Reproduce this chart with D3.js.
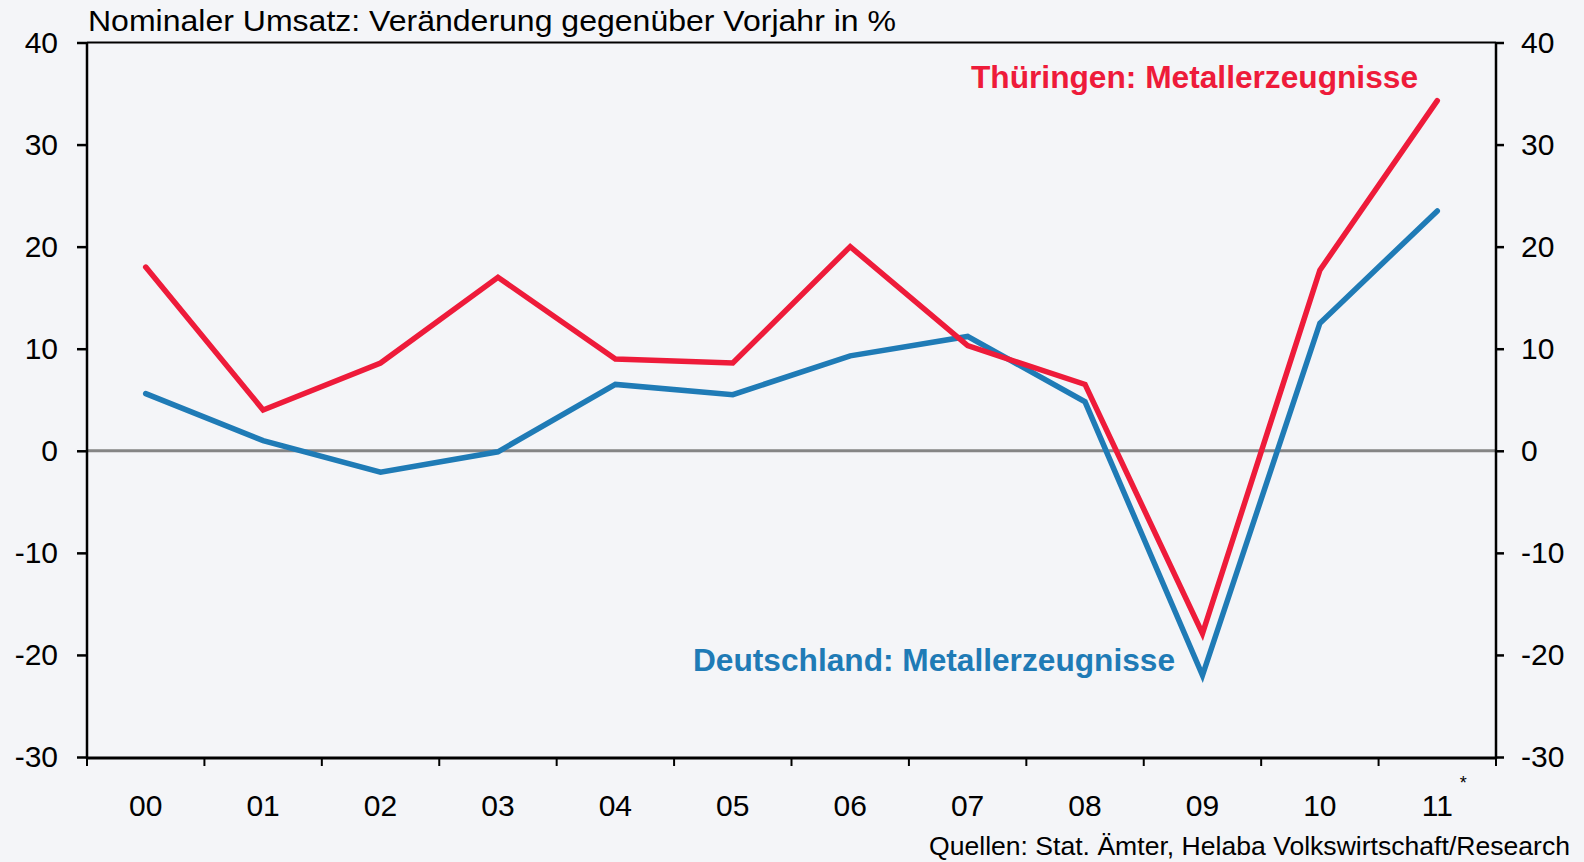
<!DOCTYPE html>
<html>
<head>
<meta charset="utf-8">
<script src="https://cdn.jsdelivr.net/npm/d3@7"></script>
<style>
  html, body { margin: 0; padding: 0; background: #f4f5f8; }
  svg { display: block; font-family: "Liberation Sans", Arial, sans-serif; }
</style>
</head>
<body>
<div class="chart_wrapper"></div>
<script>
// years (category labels)
const years = ["00", "01", "02", "03", "04", "05", "06", "07", "08", "09", "10", "11"]
// Thüringen: Metallerzeugnisse, % yoy
const thueringen = [18.0, 4.0, 8.6, 17.0, 9.0, 8.6, 20.0, 10.3, 6.5, -17.9, 17.7, 34.3]
// Deutschland: Metallerzeugnisse, % yoy
const deutschland = [5.6, 1.0, -2.1, -0.1, 6.5, 5.5, 9.3, 11.2, 4.8, -22.0, 12.5, 23.5]
const yTicks = [-30, -20, -10, 0, 10, 20, 30, 40]

const width = 1584
const height = 862
const red = "#ee1b3a"
const blue = "#1f7bb6"

const svg = d3.select('.chart_wrapper')
    .append('svg')
    .attr('width', width)
    .attr('height', height)

svg.append("rect")
    .attr("width", width)
    .attr("height", height)
    .attr("fill", "#f4f5f8")

const x = d3.scaleBand()
    .domain(years)
    .range([87, 1496])
    .padding(0)

const y = d3.scaleLinear()
    .domain([-30, 40])
    .range([757, 42.5])

// zero line
svg.append("line")
    .attr("x1", x.range()[0]).attr("x2", x.range()[1])
    .attr("y1", y(0)).attr("y2", y(0))
    .attr("stroke", "#858585")
    .attr("stroke-width", 3)

// left axis
const yLeft = svg.append("g")
    .attr("transform", `translate(${x.range()[0]},0)`)
    .call(d3.axisLeft(y).tickValues(yTicks).tickSize(10).tickPadding(19).tickFormat(d => String(d)))
yLeft.select(".domain").remove()

// right axis
const yRight = svg.append("g")
    .attr("transform", `translate(${x.range()[1]},0)`)
    .call(d3.axisRight(y).tickValues(yTicks).tickSize(8).tickPadding(17).tickFormat(d => String(d)))
yRight.select(".domain").remove()

svg.selectAll(".tick line").attr("stroke", "#000").attr("stroke-width", 2.5)
svg.selectAll(".tick text")
    .attr("font-size", 30)
    .attr("font-family", "Liberation Sans, Arial, sans-serif")
    .attr("fill", "#000")

// x labels (centered in each band)
const xAxis = svg.append("g")
    .attr("transform", `translate(0,${y(-30)})`)
    .call(d3.axisBottom(x).tickSize(0).tickPadding(38))
xAxis.select(".domain").remove()
xAxis.selectAll("text")
    .attr("font-size", 30)
    .attr("font-family", "Liberation Sans, Arial, sans-serif")
    .attr("fill", "#000")

// x ticks at band boundaries
const bounds = years.map(d => x(d)).concat([x.range()[1]])
svg.append("g")
    .selectAll("line")
    .data(bounds)
    .join("line")
    .attr("x1", d => d).attr("x2", d => d)
    .attr("y1", y(-30)).attr("y2", y(-30) + 9)
    .attr("stroke", "#000")
    .attr("stroke-width", 2)

// frame
const frame = svg.append("g").attr("stroke", "#000").attr("fill", "none")
frame.append("line")
    .attr("x1", x.range()[0]).attr("x2", x.range()[1])
    .attr("y1", y(40)).attr("y2", y(40))
    .attr("stroke-width", 2)
frame.append("line")
    .attr("x1", x.range()[0] - 1).attr("x2", x.range()[1] + 1)
    .attr("y1", y(-30) + 1).attr("y2", y(-30) + 1)
    .attr("stroke-width", 3)
frame.append("line")
    .attr("x1", x.range()[0]).attr("x2", x.range()[0])
    .attr("y1", y(40)).attr("y2", y(-30) + 2)
    .attr("stroke-width", 2.5)
frame.append("line")
    .attr("x1", x.range()[1]).attr("x2", x.range()[1])
    .attr("y1", y(40)).attr("y2", y(-30) + 2)
    .attr("stroke-width", 2.5)

// lines
const line = d3.line()
    .x((d, i) => x(years[i]) + x.bandwidth() / 2)
    .y(d => y(d))

const series = [
    { values: deutschland, color: blue },
    { values: thueringen, color: red },
]
svg.append("g")
    .selectAll("path")
    .data(series)
    .join("path")
    .attr("d", d => line(d.values))
    .attr("fill", "none")
    .attr("stroke", d => d.color)
    .attr("stroke-width", 5.5)
    .attr("stroke-linejoin", "miter")
    .attr("stroke-linecap", "round")

// series labels
svg.append("text")
    .attr("x", 971)
    .attr("y", 88)
    .attr("font-size", 32)
    .attr("font-weight", "bold")
    .attr("fill", red)
    .attr("textLength", 447)
    .attr("lengthAdjust", "spacingAndGlyphs")
    .text("Thüringen: Metallerzeugnisse")

svg.append("text")
    .attr("x", 693)
    .attr("y", 671)
    .attr("font-size", 32)
    .attr("font-weight", "bold")
    .attr("fill", blue)
    .attr("textLength", 482)
    .attr("lengthAdjust", "spacingAndGlyphs")
    .text("Deutschland: Metallerzeugnisse")

// title
svg.append("text")
    .attr("x", 88)
    .attr("y", 31)
    .attr("font-size", 30)
    .attr("fill", "#000")
    .attr("textLength", 808)
    .attr("lengthAdjust", "spacingAndGlyphs")
    .text("Nominaler Umsatz: Veränderung gegenüber Vorjahr in %")

// asterisk next to 11
svg.append("text")
    .attr("x", x("11") + x.bandwidth() / 2 + 26)
    .attr("y", 789)
    .attr("font-size", 18)
    .attr("text-anchor", "middle")
    .attr("fill", "#000")
    .text("*")

// source
svg.append("text")
    .attr("x", 1570)
    .attr("y", 855)
    .attr("font-size", 25)
    .attr("text-anchor", "end")
    .attr("fill", "#000")
    .attr("textLength", 641)
    .attr("lengthAdjust", "spacingAndGlyphs")
    .text("Quellen: Stat. Ämter, Helaba Volkswirtschaft/Research")
</script>
</body>
</html>
